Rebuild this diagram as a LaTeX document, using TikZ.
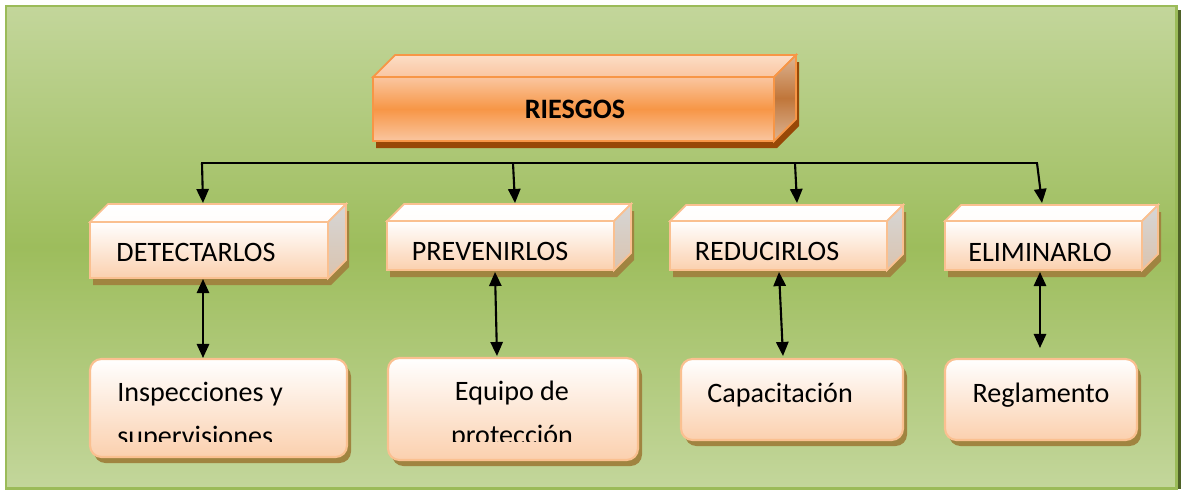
\documentclass[tikz,border=0pt]{standalone}
\usepackage{fontspec}
\setmainfont{Carlito}
\usetikzlibrary{arrows.meta}

\definecolor{panelTop}{HTML}{C3D69B}
\definecolor{panelMid}{HTML}{9DBD5C}
\definecolor{panelEdge}{HTML}{9BBB59}
\definecolor{panelDark}{HTML}{4F6228}
\definecolor{naranja}{HTML}{F79646}
\definecolor{naranjaClaro}{HTML}{FAC6A0}
\definecolor{naranjaLado}{HTML}{C0763A}
\definecolor{naranjaSombra}{HTML}{984807}
\definecolor{durazno}{HTML}{FBD0AE}
\definecolor{duraznoBorde}{HTML}{FAC090}
\definecolor{grisLado}{HTML}{D6D6D6}
\definecolor{sombra}{HTML}{A08440}

\tikzset{
    texto/.style={font=\fontsize{16}{25.5}\selectfont, inner sep=0pt},
    flecha/.style={line width=1.2pt, -{Triangle[length=8pt,width=7pt]}},
    dobleflecha/.style={line width=1.2pt, {Triangle[length=8pt,width=7pt]}-{Triangle[length=8pt,width=7pt]}},
    % faces of the orange box
    naranja sombra/.style={fill=naranjaSombra},
    naranja frente/.style={top color=naranjaClaro, bottom color=naranjaClaro, middle color=naranja, draw=naranja, line width=1pt},
    naranja tapa/.style={top color=naranjaClaro!60!white, bottom color=naranjaClaro, draw=naranja, line width=1pt},
    naranja lado/.style={top color=naranjaLado!55!white, bottom color=naranjaLado!55!white, middle color=naranjaLado, draw=naranja, line width=1pt},
    % faces of the peach boxes
    durazno sombra/.style={fill=sombra},
    durazno frente/.style={top color=white, bottom color=durazno, draw=duraznoBorde, line width=1pt},
    durazno tapa/.style={top color=white, bottom color=white!95!durazno, draw=duraznoBorde, line width=1pt},
    durazno lado/.style={top color=grisLado, bottom color=grisLado!70!durazno!80!brown, draw=duraznoBorde, line width=1pt},
    redondo/.style={rounded corners=6.5pt, top color=white, bottom color=durazno, draw=duraznoBorde, line width=1.2pt},
    redondo sombra/.style={rounded corners=6.5pt, fill=sombra}
}

% 3D box: style prefix, left, top, right, bottom, depth (pixel units, y down)
\newcommand{\cubo}[6]{%
    \fill[#1 sombra] (#2+3,#3+7) -- (#2+#6+3,#3-#6+7) -- (#4+#6+3,#3-#6+7) -- (#4+#6+3,#5-#6+7) -- (#4+3,#5+7) -- (#2+3,#5+7) -- cycle;
    \shadedraw[#1 tapa] (#2,#3) -- (#2+#6,#3-#6) -- (#4+#6,#3-#6) -- (#4,#3) -- cycle;
    \shadedraw[#1 lado] (#4,#3) -- (#4+#6,#3-#6) -- (#4+#6,#5-#6) -- (#4,#5) -- cycle;
    \shadedraw[#1 frente] (#2,#3) rectangle (#4,#5);
}

\begin{document}
\begin{tikzpicture}[x=0.02cm, y=-0.02cm]
    \useasboundingbox (0,0) rectangle (1181,491);

    % Green panel behind everything
    \fill[panelDark] (1177,10) rectangle (1181,489);
    \shade[top color=panelTop, bottom color=panelTop, middle color=panelMid] (6,6) rectangle (1176,488);
    \draw[panelEdge, line width=1.7pt] (6,6) rectangle (1176,488);

    % Top box
    \cubo{naranja}{373}{77}{774}{141}{22}
    \node[texto, font=\fontsize{16}{22.7}\selectfont\bfseries] (riesgos) at (575,109) {RIESGOS};

    % Second row of boxes
    \cubo{durazno}{90}{222}{328}{278}{18}
    \cubo{durazno}{387}{221}{614}{270}{17}
    \cubo{durazno}{670}{221}{887}{270}{16}
    \cubo{durazno}{945}{221}{1142}{270}{16}
    \node[texto] (det) at (196,252) {DETECTARLOS};
    \node[texto] (pre) at (490,251) {PREVENIRLOS};
    \node[texto] (red) at (767,251) {REDUCIRLOS};
    \node[texto] (eli) at (1040,252) {ELIMINARLO};

    % Bottom row of rounded boxes
    \foreach \xa/\ya/\xb/\yb in {90/359/347/457, 388/358/638/460, 681/359/903/440, 945/359/1137/440} {
        \fill[redondo sombra] (\xa+4,\ya+6) rectangle (\xb+4,\yb+6);
        \shadedraw[redondo] (\xa,\ya) rectangle (\xb,\yb);
    }
    \begin{scope}
        \clip (90,350) rectangle (347,441);
        \node[texto, anchor=west, align=left] (ins) at (117,416) {Inspecciones y\\supervisiones};
    \end{scope}
    \begin{scope}
        \clip (388,350) rectangle (638,441);
        \node[texto, align=center] (equ) at (512,415) {Equipo de\\protección};
    \end{scope}
    \node[texto, anchor=west] (cap) at (707,395) {Capacitación};
    \node[texto] (reg) at (1041,395) {Reglamento};

    % Bus from the top box down to the second row
    \foreach \i/\xa/\xb in {1/202/203, 2/513/515, 3/795/797, 4/1037/1042} {
        \coordinate (bus\i) at (\xa,163);
        \coordinate (top\i) at (\xb,203);
    }
    \draw[line width=1.2pt, line cap=rect] (bus1) -- (bus4);
    \foreach \i in {1,...,4} \draw[flecha] (bus\i) -- (top\i);

    % Double arrows between second and bottom rows
    \foreach \i/\xa/\ya/\xb/\yb in {1/203/279/203/358, 2/495/272/497/356, 3/779/272/783/356, 4/1040/272/1040/348} {
        \coordinate (arr\i) at (\xa,\ya);
        \coordinate (aba\i) at (\xb,\yb);
        \draw[dobleflecha] (arr\i) -- (aba\i);
    }
\end{tikzpicture}
\end{document}
